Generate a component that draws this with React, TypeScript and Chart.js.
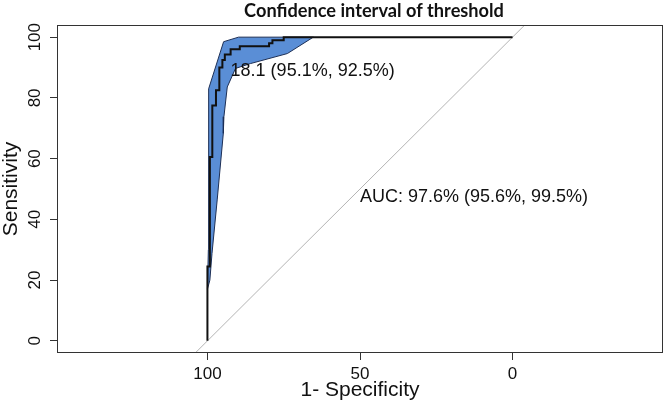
import React, { useEffect, useRef } from 'react';
import { Chart, registerables } from 'chart.js';

Chart.register(...registerables);

// ---- data ----
const titleText = 'Confidence interval of threshold';
const xTitle = '1- Specificity';
const yTitle = 'Sensitivity';
const xTicks = [100, 50, 0];
const yTicks = [0, 20, 40, 60, 80, 100];

// empirical ROC curve (specificity %, sensitivity %)
const rocSpec = [100, 100, 99.2, 99.2, 98.4, 98.4, 97.2, 97.2, 96.1, 96.1, 95.1, 95.1, 94.3, 94.3, 92.4, 92.4, 89.4, 89.4, 79.8, 79.8, 78.7, 78.7, 75, 75, 0];
const rocSens = [0, 24.5, 24.5, 60.5, 60.5, 77.5, 77.5, 82.5, 82.5, 90, 90, 92.5, 92.5, 94.3, 94.3, 96, 96, 97, 97, 98, 98, 99, 99, 100, 100];

// confidence band of sensitivity: upper bound (bottom -> top) and lower bound (top -> bottom)
const ciUpperSpec = [100, 99.7, 99.6, 94.7, 89.8, 65.3];
const ciUpperSens = [17, 30, 83, 98.5, 100, 100];
const ciLowerSpec = [65.3, 73.8, 85.9, 90.8, 93.5, 94.6, 94.8, 96.8, 98.5, 99.2, 100];
const ciLowerSens = [100, 94.6, 91.3, 89.7, 83.6, 73.8, 68.3, 46.4, 28.8, 20, 17];

// chance diagonal
const diagSpec = [120, -20];
const diagSens = [-20, 120];

const thresholdLabel = '18.1 (95.1%, 92.5%)';
const thresholdSpec = 95.1;
const thresholdSens = 92.5;
const aucLabel = 'AUC: 97.6% (95.6%, 99.5%)';
const aucSpec = 50;
const aucSens = 50;

const FONT = "'Liberation Sans', Arial, Helvetica, sans-serif";
const AXIS = '#333333';
const TEXT = '#111111';

export default function App() {
  const ref = useRef<HTMLCanvasElement>(null);

  useEffect(() => {
    const canvas = ref.current;
    if (!canvas) return;
    const toPts = (xs: number[], ys: number[]) => xs.map((x, i) => ({ x, y: ys[i] }));

    const overlay = {
      id: 'rOverlay',
      afterDraw(chart: any) {
        const { ctx, chartArea: a, scales } = chart;
        const x = scales.x;
        const y = scales.y;
        ctx.save();
        ctx.strokeStyle = AXIS;
        ctx.lineWidth = 1;
        ctx.strokeRect(a.left + 0.5, a.top + 0.5, a.right - a.left - 1, a.bottom - a.top - 1);

        // main title
        ctx.fillStyle = TEXT;
        ctx.font = `bold 18.2px Lato, sans-serif`;
        ctx.textAlign = 'center';
        ctx.textBaseline = 'alphabetic';
        ctx.fillText(titleText, (a.left + a.right) / 2 + 14, a.top - 8);

        // rotated y tick labels
        ctx.font = `17px ${FONT}`;
        for (const v of yTicks) {
          const py = y.getPixelForValue(v);
          ctx.save();
          ctx.translate(a.left - 17, py);
          ctx.rotate(-Math.PI / 2);
          ctx.fillText(String(v), 0, 0);
          ctx.restore();
        }

        ctx.font = `18px ${FONT}`;
        ctx.textAlign = 'left';
        const capH = 18 * 0.716;
        const w = ctx.measureText(thresholdLabel).width;
        ctx.fillText(
          thresholdLabel,
          x.getPixelForValue(thresholdSpec) + 0.05 * w,
          y.getPixelForValue(thresholdSens) + 1.25 * capH
        );
        ctx.fillText(aucLabel, x.getPixelForValue(aucSpec), y.getPixelForValue(aucSens) + capH);
        ctx.restore();
      },
    };

    const grid = {
      drawOnChartArea: false,
      drawTicks: true,
      tickLength: 7,
      color: AXIS,
      lineWidth: 1,
    };

    const chart = new Chart(canvas, {
      type: 'scatter',
      data: {
        datasets: [
          {
            label: 'ROC',
            data: toPts(rocSpec, rocSens),
            showLine: true,
            borderColor: '#111111',
            borderWidth: 2,
            pointRadius: 0,
            fill: false,
            borderJoinStyle: 'miter',
          },
          {
            label: 'CI',
            data: [...toPts(ciUpperSpec, ciUpperSens), ...toPts(ciLowerSpec, ciLowerSens)],
            showLine: true,
            borderColor: '#1d2f55',
            borderWidth: 1,
            backgroundColor: 'rgb(90,142,214)',
            pointRadius: 0,
            fill: 'shape',
          },
          {
            label: 'diag',
            data: toPts(diagSpec, diagSens),
            showLine: true,
            borderColor: '#b4b4b4',
            borderWidth: 1,
            pointRadius: 0,
            fill: false,
          },
        ],
      },
      options: {
        animation: false,
        responsive: false,
        devicePixelRatio: 1,
        layout: { padding: { left: 0, right: 3, top: 25, bottom: 0 } },
        plugins: {
          legend: { display: false },
          tooltip: { enabled: false },
          title: { display: false },
        },
        scales: {
          x: {
            type: 'linear',
            min: -49.3,
            max: 149.3,
            reverse: true,
            afterBuildTicks: (s: any) => {
              s.ticks = xTicks.map((v) => ({ value: v }));
            },
            afterFit: (s: any) => {
              s.height = 55;
            },
            ticks: {
              color: TEXT,
              font: { family: FONT, size: 17 },
              padding: 4.5,
              maxRotation: 0,
              autoSkip: false,
              callback: (v: any) => String(v),
            },
            title: {
              display: true,
              text: xTitle,
              color: TEXT,
              font: { family: FONT, size: 21, lineHeight: 1.2 },
              padding: { top: 0, bottom: 5 },
            },
            border: { display: false },
            grid,
          },
          y: {
            type: 'linear',
            min: -4,
            max: 104,
            afterBuildTicks: (s: any) => {
              s.ticks = yTicks.map((v) => ({ value: v }));
            },
            afterFit: (s: any) => {
              s.width = 57;
            },
            ticks: { display: false },
            title: {
              display: true,
              text: yTitle,
              color: TEXT,
              font: { family: FONT, size: 21, lineHeight: 1 },
              padding: { top: 1, bottom: 0 },
            },
            border: { display: false },
            grid,
          },
        },
      },
      plugins: [overlay],
    } as any);

    return () => chart.destroy();
  }, []);

  return (
    <div style={{ position: 'absolute', left: 0, top: 0, width: 666, height: 408 }}>
      <canvas ref={ref} width={666} height={408} style={{ display: 'block' }} />
    </div>
  );
}
